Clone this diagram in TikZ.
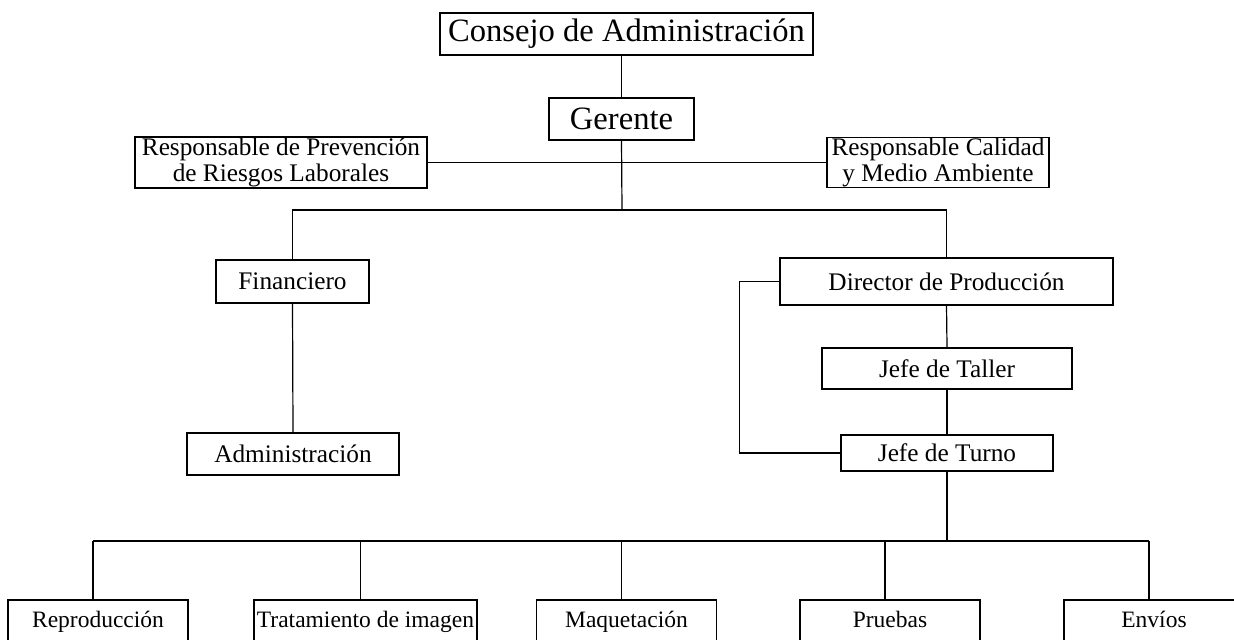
\documentclass[tikz,border=0pt]{standalone}
\usepackage{fontspec}
\setmainfont{Liberation Serif}
\usetikzlibrary{
  arrows,
  positioning,
  calc}
\tikzset{cargo/.style={draw, line width=0.6pt, inner sep=0pt, align=center, font=\fontsize{12.65}{12.8}\selectfont},
         grande/.style={cargo, font=\fontsize{16.3}{18}\selectfont},
         base/.style={cargo, font=\fontsize{11.75}{13}\selectfont, text height=1.9ex, text depth=0.5ex, minimum width=90pt, minimum height=21pt},
         linea/.style={line width=0.6pt}
        }
\begin{document}
\begin{tikzpicture}[x=0.5pt,y=-0.5pt]
\useasboundingbox (0,0) rectangle (1234,639);
\clip (0,0) rectangle (1234,639);
\node[grande, minimum width=186.5pt, minimum height=21pt] at (626.5,34)(consejo){Consejo de Administración};
\node[grande, minimum width=72.5pt, minimum height=21pt] at (621.5,119)(gerente){Gerente};
\node[cargo, minimum width=146pt, minimum height=25.5pt] at (281,162.5)(prevencion){Responsable de Prevención\\de Riesgos Laborales};
\node[cargo, minimum width=111pt, minimum height=25pt] at (938,162.5)(calidad){Responsable Calidad\\y Medio Ambiente};
\node[cargo, minimum width=76.5pt, minimum height=21.5pt] at (292.5,281.5)(financiero){Financiero};
\node[cargo, minimum width=106pt, minimum height=21pt] at (293,454)(admin){Administración};
\node[cargo, minimum width=166.5pt, minimum height=23.5pt] at (946.5,281.5)(director){Director de Producción};
\node[cargo, minimum width=125pt, minimum height=20.5pt] at (947,368.5)(taller){Jefe de Taller};
\node[cargo, minimum width=106pt, minimum height=18pt] at (947,453)(turno){Jefe de Turno};
\node[base] at (98,621)(repro){Reproducción};
\node[base, minimum width=111.5pt] at (365.5,621)(tratamiento){Tratamiento de imagen};
\node[base] at (626.5,621)(maqueta){Maquetación};
\node[base] at (890,621)(pruebas){Pruebas};
\node[base] at (1154,621)(envios){Envíos};
\coordinate (cruce) at (622,210);
\coordinate (reparto) at (947,541);
\draw[linea] (gerente.north) -- (gerente.north |- consejo.south);
\draw[linea] (prevencion.east) -- (calidad.west);
\draw[linea] (gerente.south) -- (cruce);
\draw[linea] (financiero.north) |- (cruce) -| (director.north);
\draw[linea] (financiero.south) -- (admin.north);
\draw[linea] (director.south) -- (taller.north);
\draw[linea] (taller.south) -- (turno.north);
\draw[linea] (director.west) -- ++(-40,0) |- (turno.west);
\draw[linea] (turno.south) -- (reparto);
\draw[linea] ([xshift=-2.5pt]repro.north |- reparto) -- ([xshift=-2.5pt]envios.north |- reparto);
\foreach \n in {repro,tratamiento,maqueta,pruebas,envios}
  \draw[linea] ([xshift=-2.5pt]\n.north) -- ([xshift=-2.5pt]\n.north |- reparto);
\end{tikzpicture}
\end{document}
